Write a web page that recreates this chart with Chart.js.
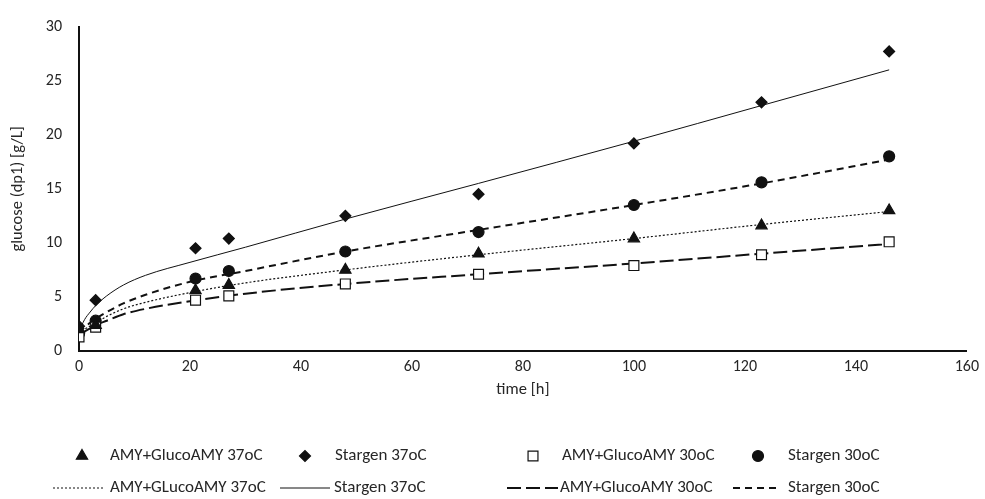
<!DOCTYPE html>
<html>
<head>
<meta charset="utf-8">
<script src="https://cdn.jsdelivr.net/npm/chart.js@4/dist/chart.umd.min.js"></script>
<style>
    html, body { margin: 0; padding: 0; background: #fff; }
    #wrap { width: 985px; height: 499px; }
</style>
</head>
<body>
<div id="wrap"><canvas id="glucoseChart" width="985" height="499"></canvas></div>
<script>
// measured sampling times [h]
const times = [0, 3, 21, 27, 48, 72, 100, 123, 146];
const amy37 = [2.0, 2.4, 5.6, 6.1, 7.5, 9.0, 10.4, 11.6, 13.0];
const stargen37 = [2.3, 4.7, 9.5, 10.4, 12.5, 14.5, 19.2, 23.0, 27.7];
const amy30 = [1.3, 2.2, 4.7, 5.1, 6.2, 7.1, 7.9, 8.9, 10.1];
const stargen30 = [1.6, 2.8, 6.7, 7.4, 9.2, 11.0, 13.5, 15.6, 18.0];

// trend lines
const fitTimes = [0, 1, 2, 3, 5, 8, 12, 20, 30, 48, 72, 100, 123, 146];
const amy37Fit = [1.6, 2.0, 2.3, 2.6, 3.2, 3.9, 4.5, 5.4, 6.3, 7.5, 8.9, 10.4, 11.7, 12.9];
const stargen37Fit = [1.8, 2.9, 3.6, 4.2, 5.1, 6.1, 7.0, 8.2, 9.6, 12.2, 15.5, 19.4, 22.7, 26.0];
const amy30Fit = [1.4, 1.8, 2.1, 2.4, 2.8, 3.4, 3.9, 4.6, 5.3, 6.2, 7.1, 8.1, 9.0, 9.9];
const stargen30Fit = [1.7, 2.2, 2.6, 3.0, 3.6, 4.4, 5.2, 6.4, 7.4, 9.2, 11.2, 13.5, 15.5, 17.7];

const xTicks = [0, 20, 40, 60, 80, 100, 120, 140, 160];
const yTicks = [0, 5, 10, 15, 20, 25, 30];

const FONT = 'Carlito, Lato, "Open Sans", sans-serif';
const INK = '#111';
const TEXT = '#262626';

const toXY = (xs, ys) => xs.map((x, i) => ({ x, y: ys[i] }));

const markerSet = (label, ys, style, radius, fill) => ({
    label,
    data: toXY(times, ys),
    showLine: false,
    pointStyle: style,
    pointRadius: radius,
    pointBackgroundColor: fill,
    pointBorderColor: INK,
    pointBorderWidth: 1.2,
    order: 0,
});

const lineSet = (label, ys, width, dash) => ({
    label,
    data: toXY(fitTimes, ys),
    showLine: true,
    borderColor: INK,
    borderWidth: width,
    borderDash: dash,
    pointRadius: 0,
    cubicInterpolationMode: 'monotone',
    fill: false,
    order: 1,
});

const legendRows = [
    { y: 456, items: [
        { kind: 'point', style: 'triangle', r: 6.5, fill: INK, x: 82, tx: 110, text: 'AMY+GlucoAMY 37oC' },
        { kind: 'point', style: 'rectRot', r: 5.5, fill: INK, x: 305, tx: 335, text: 'Stargen 37oC' },
        { kind: 'point', style: 'rect', r: 7, fill: '#fff', x: 533, tx: 562, text: 'AMY+GlucoAMY 30oC' },
        { kind: 'point', style: 'circle', r: 5.5, fill: INK, x: 758, tx: 788, text: 'Stargen 30oC' },
    ]},
    { y: 488, items: [
        { kind: 'line', w: 1.2, dash: [2, 2], x0: 53, x1: 105, tx: 110, text: 'AMY+GLucoAMY 37oC' },
        { kind: 'line', w: 1, dash: [], x0: 280, x1: 330, tx: 334, text: 'Stargen 37oC' },
        { kind: 'line', w: 2, dash: [14, 5], x0: 507, x1: 558, tx: 560, text: 'AMY+GlucoAMY 30oC' },
        { kind: 'line', w: 2, dash: [7, 5], x0: 733, x1: 779, tx: 788, text: 'Stargen 30oC' },
    ]},
];

const customLegend = {
    id: 'customLegend',
    afterDraw(chart) {
        const ctx = chart.ctx;
        ctx.save();
        ctx.font = '17px ' + FONT;
        ctx.textBaseline = 'middle';
        legendRows.forEach(row => {
            row.items.forEach(item => {
                if (item.kind === 'point') {
                    ctx.fillStyle = item.fill;
                    ctx.strokeStyle = INK;
                    ctx.lineWidth = 1.2;
                    Chart.helpers.drawPoint(ctx, { pointStyle: item.style, radius: item.r, rotation: 0, borderWidth: 1.2 }, item.x, row.y);
                } else {
                    ctx.beginPath();
                    ctx.strokeStyle = INK;
                    ctx.lineWidth = item.w;
                    ctx.setLineDash(item.dash);
                    ctx.moveTo(item.x0, row.y);
                    ctx.lineTo(item.x1, row.y);
                    ctx.stroke();
                    ctx.setLineDash([]);
                }
                ctx.fillStyle = TEXT;
                ctx.fillText(item.text, item.tx, row.y);
            });
        });
        ctx.restore();
    },
};

new Chart(document.getElementById('glucoseChart'), {
    type: 'scatter',
    data: {
        datasets: [
            markerSet('AMY+GlucoAMY 37oC', amy37, 'triangle', 6.5, INK),
            markerSet('Stargen 37oC', stargen37, 'rectRot', 5.5, INK),
            markerSet('AMY+GlucoAMY 30oC', amy30, 'rect', 7, '#fff'),
            markerSet('Stargen 30oC', stargen30, 'circle', 5.5, INK),
            lineSet('AMY+GLucoAMY 37oC', amy37Fit, 1.2, [2, 2]),
            lineSet('Stargen 37oC', stargen37Fit, 1, []),
            lineSet('AMY+GlucoAMY 30oC', amy30Fit, 2, [14, 5]),
            lineSet('Stargen 30oC', stargen30Fit, 2, [7, 5]),
        ],
    },
    options: {
        responsive: false,
        animation: false,
        layout: {
            padding: { left: 0, top: 21, right: 17, bottom: 90 },
        },
        plugins: {
            legend: { display: false },
            tooltip: { enabled: false },
        },
        scales: {
            x: {
                type: 'linear',
                min: 0,
                max: 160,
                afterBuildTicks: scale => { scale.ticks = xTicks.map(v => ({ value: v })); },
                afterFit: scale => { scale.height = 58; },
                grid: { display: false, drawTicks: false },
                border: { display: true, color: INK, width: 2 },
                ticks: { color: TEXT, font: { family: FONT, size: 16 }, padding: 6, maxRotation: 0 },
                title: {
                    display: true,
                    text: 'time [h]',
                    color: TEXT,
                    font: { family: FONT, size: 16.5 },
                    padding: { top: 2, bottom: 9 },
                },
            },
            y: {
                min: 0,
                max: 30,
                afterBuildTicks: scale => { scale.ticks = yTicks.map(v => ({ value: v })); },
                afterFit: scale => { scale.width = 79; },
                grid: { display: false, drawTicks: false },
                border: { display: true, color: INK, width: 2 },
                ticks: { color: TEXT, font: { family: FONT, size: 16 }, padding: 17 },
                title: {
                    display: true,
                    text: 'glucose (dp1) [g/L]',
                    color: TEXT,
                    font: { family: FONT, size: 16.5 },
                    padding: { top: 8, bottom: 0 },
                },
            },
        },
    },
    plugins: [customLegend],
});
</script>
</body>
</html>
